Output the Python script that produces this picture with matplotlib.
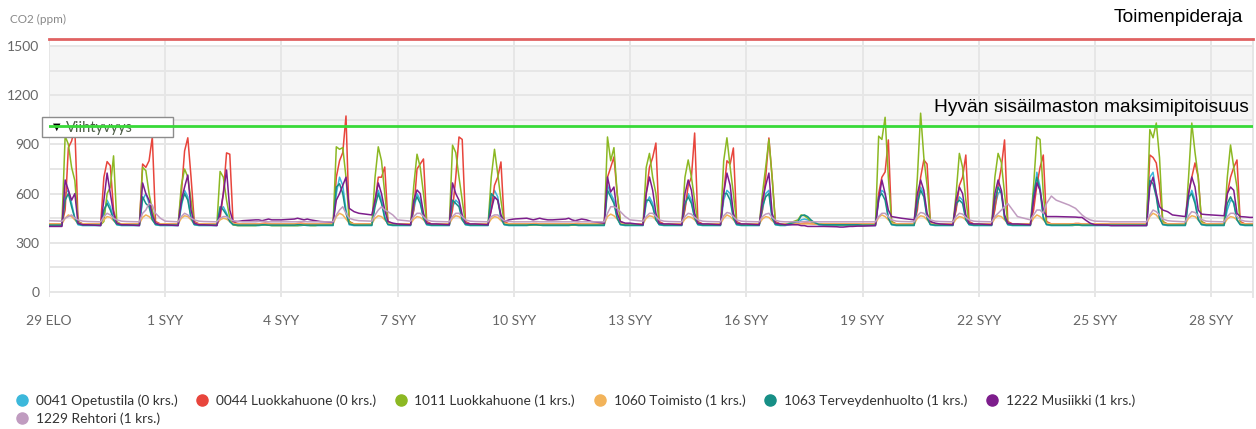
import matplotlib.pyplot as plt
from matplotlib.patches import Rectangle
from matplotlib.lines import Line2D

plt.rcParams['font.family'] = ['Lato', 'DejaVu Sans']

# hours of the day at which each daily row is sampled
hours = [0, 8, 10, 12, 14, 16, 18, 21]

tick_days = [0, 3, 6, 9, 12, 15, 18, 21, 24, 27, 30]
tick_labels = ['29 ELO', '1 SYY', '4 SYY', '7 SYY', '10 SYY', '13 SYY',
               '16 SYY', '19 SYY', '22 SYY', '25 SYY', '28 SYY']

names = ['0041 Opetustila (0 krs.)', '0044 Luokkahuone (0 krs.)',
         '1011 Luokkahuone (1 krs.)', '1060 Toimisto (1 krs.)',
         '1063 Terveydenhuolto (1 krs.)', '1222 Musiikki (1 krs.)',
         '1229 Rehtori (1 krs.)']
colors = ['#3cb8db', '#e8453c', '#8cb823', '#f2b35a', '#178f86',
          '#7d1d8c', '#c09cc0']

# one row per day (29.8. -> 29.9.), values in ppm at `hours`
opetustila = [
    [405, 405, 600, 620, 540, 450, 410, 405],
    [405, 405, 480, 560, 520, 450, 410, 405],
    [405, 405, 560, 600, 540, 450, 410, 405],
    [405, 405, 520, 620, 580, 450, 410, 405],
    [405, 405, 500, 520, 480, 430, 410, 405],
    [405, 405, 405, 408, 410, 408, 405, 405],
    [405, 405, 405, 405, 408, 405, 405, 405],
    [405, 405, 600, 700, 650, 500, 410, 405],
    [405, 405, 560, 620, 560, 460, 410, 405],
    [405, 405, 500, 600, 560, 450, 410, 405],
    [405, 405, 520, 560, 540, 450, 410, 405],
    [405, 405, 560, 620, 580, 450, 410, 405],
    [405, 405, 408, 410, 410, 408, 405, 405],
    [405, 405, 405, 408, 408, 405, 405, 405],
    [405, 405, 650, 600, 560, 450, 410, 405],
    [405, 405, 540, 580, 540, 450, 410, 405],
    [405, 405, 520, 600, 560, 450, 410, 405],
    [405, 405, 560, 620, 600, 450, 410, 405],
    [405, 405, 500, 600, 620, 450, 410, 405],
    [405, 420, 440, 445, 440, 430, 420, 410],
    [408, 405, 405, 405, 405, 405, 405, 405],
    [405, 405, 560, 620, 600, 450, 410, 405],
    [405, 405, 560, 640, 600, 460, 410, 405],
    [405, 405, 520, 580, 560, 450, 410, 405],
    [405, 405, 520, 600, 620, 460, 410, 405],
    [405, 405, 560, 730, 640, 460, 410, 405],
    [405, 405, 405, 408, 408, 405, 405, 405],
    [405, 405, 405, 405, 405, 405, 405, 405],
    [405, 405, 700, 730, 600, 460, 410, 405],
    [405, 405, 560, 620, 560, 450, 410, 405],
    [405, 405, 500, 560, 550, 440, 410, 405],
    [405, 405, 405, 405, 405, 405, 405, 405],
]
luokka_0044 = [
    [415, 415, 500, 880, 920, 1000, 430, 415],
    [415, 415, 700, 795, 770, 500, 420, 415],
    [415, 415, 780, 760, 800, 945, 430, 415],
    [415, 415, 600, 860, 940, 700, 430, 415],
    [415, 415, 450, 600, 848, 840, 430, 415],
    [415, 415, 415, 418, 420, 418, 415, 415],
    [415, 415, 418, 420, 418, 415, 415, 415],
    [415, 415, 700, 800, 850, 1073, 430, 415],
    [415, 415, 550, 700, 700, 762, 430, 415],
    [415, 415, 500, 750, 780, 811, 430, 415],
    [415, 415, 500, 700, 945, 930, 430, 415],
    [415, 415, 500, 650, 700, 793, 430, 415],
    [415, 415, 415, 418, 418, 415, 415, 415],
    [415, 415, 415, 415, 418, 418, 415, 415],
    [415, 415, 700, 760, 823, 600, 430, 415],
    [415, 415, 600, 760, 820, 908, 430, 415],
    [415, 415, 500, 650, 700, 969, 430, 415],
    [415, 415, 600, 800, 780, 878, 430, 415],
    [415, 415, 500, 700, 939, 700, 430, 415],
    [415, 415, 418, 420, 420, 418, 415, 415],
    [415, 415, 415, 415, 415, 415, 415, 415],
    [415, 415, 600, 700, 732, 927, 430, 415],
    [415, 415, 500, 700, 805, 780, 430, 415],
    [415, 415, 500, 650, 700, 835, 430, 415],
    [415, 415, 500, 650, 760, 927, 430, 415],
    [415, 415, 500, 650, 760, 835, 430, 415],
    [415, 415, 415, 418, 418, 415, 415, 415],
    [415, 415, 415, 415, 415, 415, 415, 415],
    [415, 415, 835, 820, 787, 650, 430, 415],
    [415, 415, 600, 700, 787, 700, 430, 415],
    [415, 415, 600, 700, 760, 805, 430, 415],
    [415, 415, 415, 415, 415, 415, 415, 415],
]
luokka_1011 = [
    [410, 410, 950, 900, 760, 680, 430, 410],
    [410, 410, 430, 600, 640, 830, 430, 410],
    [410, 410, 760, 740, 600, 500, 420, 410],
    [410, 410, 650, 750, 700, 560, 420, 410],
    [410, 410, 735, 700, 560, 450, 410, 405],
    [405, 405, 408, 410, 410, 408, 405, 405],
    [405, 405, 405, 408, 410, 408, 405, 405],
    [410, 410, 885, 870, 880, 700, 430, 410],
    [410, 410, 700, 885, 800, 600, 420, 410],
    [410, 410, 650, 840, 760, 600, 420, 410],
    [410, 410, 895, 850, 700, 560, 420, 410],
    [410, 410, 700, 870, 720, 560, 420, 410],
    [410, 408, 408, 410, 410, 408, 408, 408],
    [408, 408, 408, 408, 410, 410, 408, 410],
    [410, 410, 945, 800, 880, 600, 430, 410],
    [410, 410, 760, 845, 700, 600, 420, 410],
    [410, 410, 700, 805, 700, 560, 420, 410],
    [410, 410, 800, 940, 760, 600, 420, 410],
    [410, 410, 600, 760, 930, 700, 420, 410],
    [410, 440, 470, 465, 450, 430, 420, 415],
    [412, 410, 410, 410, 410, 410, 410, 410],
    [410, 410, 950, 930, 1065, 700, 430, 410],
    [410, 410, 700, 1090, 820, 650, 430, 410],
    [410, 410, 600, 845, 760, 560, 420, 410],
    [410, 410, 700, 845, 790, 600, 420, 410],
    [410, 410, 650, 945, 930, 600, 420, 410],
    [410, 408, 408, 410, 410, 408, 408, 408],
    [408, 408, 408, 408, 408, 408, 408, 410],
    [410, 410, 990, 940, 1030, 820, 430, 410],
    [410, 410, 700, 1030, 850, 700, 430, 410],
    [410, 410, 700, 896, 760, 640, 420, 410],
    [410, 410, 410, 410, 410, 410, 410, 410],
]
toimisto = [
    [415, 415, 450, 470, 460, 440, 420, 415],
    [415, 415, 440, 460, 455, 435, 420, 415],
    [415, 415, 455, 470, 460, 440, 420, 415],
    [415, 415, 450, 465, 460, 440, 420, 415],
    [415, 415, 440, 450, 445, 430, 418, 415],
    [415, 415, 415, 415, 415, 415, 415, 415],
    [415, 415, 415, 415, 415, 415, 415, 415],
    [415, 415, 460, 480, 470, 445, 420, 415],
    [415, 415, 450, 465, 460, 440, 420, 415],
    [415, 415, 445, 460, 455, 440, 420, 415],
    [415, 415, 450, 465, 460, 440, 420, 415],
    [415, 415, 445, 460, 455, 435, 420, 415],
    [415, 415, 415, 415, 415, 415, 415, 415],
    [415, 415, 415, 415, 415, 415, 415, 415],
    [415, 415, 460, 475, 465, 445, 420, 415],
    [415, 415, 450, 465, 460, 440, 420, 415],
    [415, 415, 445, 460, 455, 440, 420, 415],
    [415, 415, 450, 470, 460, 440, 420, 415],
    [415, 415, 445, 460, 455, 435, 420, 415],
    [415, 415, 415, 415, 415, 415, 415, 415],
    [415, 415, 415, 415, 415, 415, 415, 415],
    [415, 415, 455, 470, 460, 440, 420, 415],
    [415, 415, 450, 465, 460, 440, 420, 415],
    [415, 415, 445, 460, 455, 440, 420, 415],
    [415, 415, 450, 465, 460, 440, 420, 415],
    [415, 415, 450, 470, 460, 440, 420, 415],
    [415, 415, 415, 415, 415, 415, 415, 415],
    [415, 415, 415, 415, 415, 415, 415, 415],
    [415, 415, 460, 480, 470, 445, 420, 415],
    [415, 415, 450, 465, 460, 440, 420, 415],
    [415, 415, 445, 460, 455, 440, 420, 415],
    [415, 415, 415, 415, 415, 415, 415, 415],
]
terveydenhuolto = [
    [408, 408, 560, 600, 520, 450, 415, 408],
    [408, 408, 500, 540, 500, 440, 412, 408],
    [408, 408, 580, 540, 520, 440, 412, 408],
    [408, 408, 540, 600, 560, 450, 412, 408],
    [408, 408, 520, 500, 470, 430, 412, 408],
    [408, 408, 408, 410, 410, 408, 408, 408],
    [408, 408, 410, 410, 408, 408, 408, 408],
    [408, 408, 640, 660, 600, 480, 415, 408],
    [408, 408, 520, 600, 540, 450, 412, 408],
    [408, 408, 540, 580, 540, 450, 412, 408],
    [408, 408, 560, 540, 520, 440, 412, 408],
    [408, 408, 600, 580, 560, 450, 412, 408],
    [408, 408, 410, 410, 410, 408, 408, 408],
    [408, 408, 408, 410, 410, 408, 408, 408],
    [408, 408, 620, 580, 540, 450, 412, 408],
    [408, 408, 560, 560, 520, 440, 412, 408],
    [408, 408, 540, 580, 540, 450, 412, 408],
    [408, 408, 600, 600, 560, 450, 412, 408],
    [408, 408, 520, 580, 600, 450, 412, 408],
    [410, 430, 465, 470, 460, 440, 425, 412],
    [410, 410, 410, 410, 410, 410, 410, 410],
    [408, 408, 580, 600, 560, 450, 412, 408],
    [408, 408, 540, 620, 580, 450, 412, 408],
    [408, 408, 540, 560, 540, 440, 412, 408],
    [408, 408, 560, 640, 600, 450, 412, 408],
    [408, 408, 600, 700, 620, 450, 412, 408],
    [408, 408, 410, 410, 410, 408, 408, 408],
    [408, 408, 408, 408, 408, 408, 408, 408],
    [408, 408, 680, 660, 580, 450, 412, 408],
    [408, 408, 580, 600, 540, 440, 412, 408],
    [408, 408, 540, 580, 540, 440, 412, 408],
    [408, 408, 408, 408, 408, 408, 408, 408],
]
musiikki = [
    [400, 400, 683, 620, 560, 600, 420, 410],
    [410, 405, 560, 725, 600, 480, 420, 410],
    [410, 405, 665, 600, 560, 470, 420, 410],
    [410, 405, 560, 640, 713, 500, 420, 410],
    [410, 405, 480, 600, 744, 500, 430, 430],
    [435, 440, 440, 435, 440, 445, 440, 440],
    [440, 445, 450, 445, 440, 445, 440, 435],
    [430, 425, 560, 600, 650, 700, 510, 490],
    [480, 470, 560, 665, 600, 500, 430, 420],
    [415, 410, 560, 622, 600, 480, 420, 415],
    [415, 410, 665, 600, 560, 470, 420, 415],
    [415, 410, 500, 580, 560, 470, 430, 440],
    [445, 450, 445, 440, 445, 450, 445, 440],
    [440, 445, 450, 440, 435, 440, 445, 440],
    [430, 420, 701, 610, 640, 480, 430, 420],
    [420, 410, 600, 701, 620, 480, 420, 415],
    [415, 410, 600, 683, 620, 480, 420, 415],
    [415, 410, 600, 725, 650, 480, 420, 415],
    [415, 410, 560, 650, 725, 480, 420, 415],
    [410, 410, 405, 405, 400, 400, 400, 400],
    [400, 398, 396, 396, 398, 400, 400, 402],
    [402, 405, 560, 683, 600, 500, 460, 455],
    [450, 440, 600, 683, 620, 480, 430, 420],
    [415, 410, 560, 640, 600, 470, 420, 415],
    [415, 410, 600, 683, 620, 470, 420, 415],
    [415, 410, 560, 665, 620, 500, 460, 460],
    [460, 458, 457, 457, 455, 455, 440, 420],
    [410, 408, 405, 405, 405, 405, 405, 405],
    [405, 405, 640, 700, 600, 520, 500, 490],
    [470, 460, 600, 701, 640, 500, 475, 472],
    [470, 465, 600, 640, 620, 480, 460, 458],
    [455, 455, 455, 455, 455, 455, 455, 455],
]
rehtori = [
    [435, 432, 450, 460, 470, 450, 440, 432],
    [430, 428, 460, 480, 470, 450, 440, 432],
    [430, 428, 480, 500, 540, 530, 480, 450],
    [432, 428, 460, 480, 470, 450, 440, 432],
    [430, 428, 450, 460, 460, 445, 435, 430],
    [428, 428, 430, 430, 430, 428, 428, 428],
    [428, 428, 428, 430, 430, 428, 428, 428],
    [428, 428, 470, 500, 520, 480, 450, 440],
    [435, 432, 470, 500, 520, 500, 490, 470],
    [440, 432, 460, 480, 480, 460, 440, 432],
    [430, 428, 460, 480, 480, 460, 440, 432],
    [430, 428, 460, 470, 470, 450, 435, 430],
    [428, 428, 428, 430, 430, 428, 428, 428],
    [428, 428, 428, 428, 430, 428, 428, 428],
    [428, 428, 480, 520, 520, 510, 490, 460],
    [440, 432, 460, 480, 480, 460, 440, 432],
    [430, 428, 460, 480, 475, 455, 440, 432],
    [430, 428, 465, 485, 480, 460, 440, 432],
    [430, 428, 460, 475, 480, 455, 438, 430],
    [428, 428, 428, 430, 430, 428, 428, 428],
    [428, 428, 428, 428, 428, 428, 428, 428],
    [428, 428, 460, 480, 480, 460, 440, 432],
    [430, 428, 465, 485, 480, 460, 440, 432],
    [430, 428, 460, 480, 475, 455, 440, 432],
    [430, 428, 460, 480, 500, 520, 540, 500],
    [460, 440, 470, 500, 500, 480, 540, 585],
    [560, 530, 520, 510, 490, 470, 455, 440],
    [432, 430, 428, 428, 428, 428, 428, 428],
    [428, 428, 470, 500, 490, 470, 445, 435],
    [432, 428, 465, 490, 485, 465, 442, 432],
    [430, 428, 460, 480, 480, 460, 440, 432],
    [430, 430, 430, 430, 430, 430, 430, 430],
]
all_series = [opetustila, luokka_0044, luokka_1011, toimisto,
              terveydenhuolto, musiikki, rehtori]

action_limit = 1543   # Toimenpideraja
good_limit = 1012     # Hyvän sisäilmaston maksimipitoisuus

W, H = 1256, 429
fig = plt.figure(figsize=(W / 100, H / 100), dpi=100)
ax = fig.add_axes([49 / W, 1 - 297 / H, 1204 / W, 258.5 / H])

for rows, c in zip(all_series, colors):
    t = [d + h / 24 for d in range(len(rows)) for h in hours]
    v = [x for row in rows for x in row]
    ax.plot(t, v, color=c, lw=1.1, zorder=3, solid_joinstyle='round')

ax.set_xlim(0, 31.08)
ax.set_ylim(-30, 1545)
ax.axhspan(good_limit, 1500, color='#f5f5f5', zorder=0, lw=0)
ax.set_yticks(range(0, 1501, 300))
ax.set_yticks(range(150, 1500, 300), minor=True)
ax.set_xticks(tick_days)
ax.set_xticklabels(tick_labels)
ax.grid(True, which='both', color='#e6e6e6', lw=1.4)
ax.set_axisbelow(True)
ax.tick_params(which='both', length=0, labelsize=10, labelcolor='#666666')
ax.tick_params(axis='y', pad=7)
ax.tick_params(axis='x', pad=13)
for s in ['top', 'left', 'bottom']:
    ax.spines[s].set_visible(False)
ax.spines['right'].set_color('#e6e6e6')
ax.spines['right'].set_linewidth(1.4)

ax.axhline(action_limit, color='#e06262', lw=2, zorder=4, clip_on=False)
ax.axhline(good_limit, color='#38d938', lw=2, zorder=7)

# "Viihtyvyys" series toggle box
ax.add_artist(Rectangle((42 / W, 1 - 137 / H), 131 / W, 20 / H,
                        transform=fig.transFigure, fc='white', ec='#8c8c8c',
                        lw=1, zorder=5, clip_on=False))
ax.text(57 / W, 1 - 127 / H, '▼', transform=fig.transFigure, fontsize=7,
        color='black', va='center', ha='center', zorder=6,
        family='DejaVu Sans')
ax.text(66 / W, 1 - 128 / H, 'Viihtyvyys', transform=fig.transFigure,
        fontsize=10.5, color='#4e5e48', va='center', zorder=6)

fig.text(10 / W, 1 - 19 / H, 'CO2 (ppm)', fontsize=8.5, color='#888888',
         va='center')
fig.text(1243 / W, 1 - 18 / H, 'Toimenpideraja', ha='right', va='center',
         fontsize=13.8, family='Liberation Sans')
fig.text(1249 / W, 1 - 107 / H, 'Hyvän sisäilmaston maksimipitoisuus',
         ha='right', va='center', fontsize=13.8, family='Liberation Sans')

handles = [Line2D([], [], ls='', marker='o', markersize=8, color=c)
           for c in colors]
order = [0, 6, 1, 2, 3, 4, 5]
fig.legend([handles[i] for i in order], [names[i] for i in order], ncol=6,
           loc='upper left', bbox_to_anchor=(15 / W, 1 - 394 / H),
           frameon=False, fontsize=9.9, handlelength=1, handletextpad=0.5,
           columnspacing=1.3, labelspacing=0.4, borderpad=0,
           borderaxespad=0, labelcolor='#333333')

fig.savefig('out.png', dpi=100)
